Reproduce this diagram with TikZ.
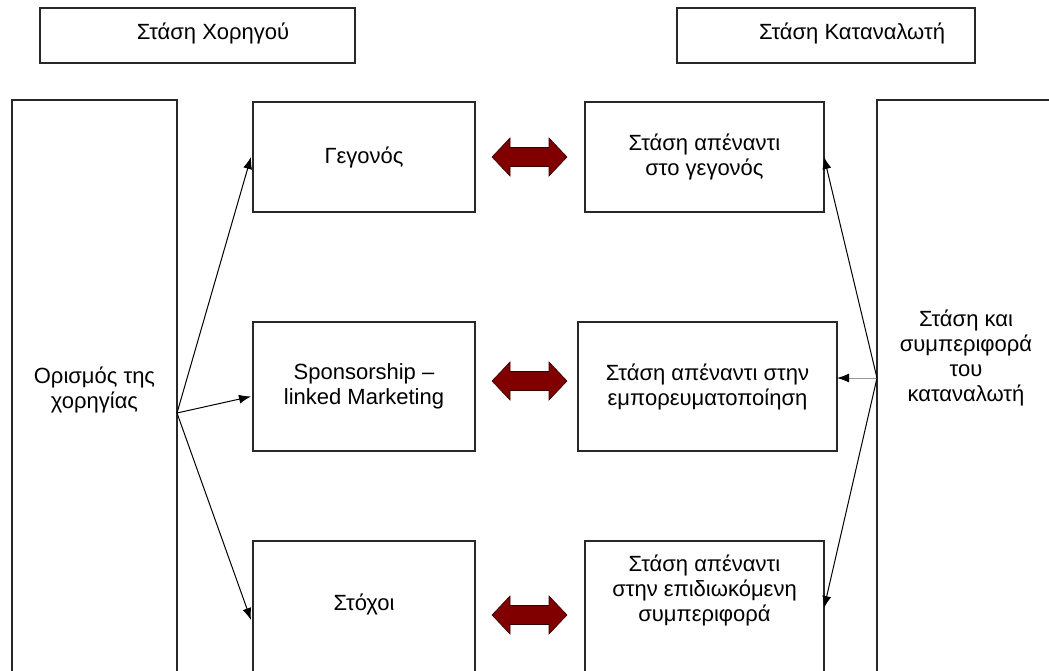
\documentclass[tikz,border=0pt]{standalone}
\usepackage{fontspec}
\setmainfont{Liberation Sans}
\usetikzlibrary{arrows.meta}
\definecolor{maroonfill}{RGB}{128,0,0}
\definecolor{framegray}{RGB}{40,40,40}

\tikzset{
  frame/.style={draw=framegray, line width=1.1pt, inner sep=0pt, outer sep=0pt,
    font=\fontsize{22}{25}\selectfont, align=center},
  txt/.style={inner sep=0pt, font=\fontsize{22}{25}\selectfont, align=center},
  conn/.style={draw=black, line width=1pt, -{Latex[length=12pt,width=9pt]}},
  connlight/.style={draw=black!40, line width=1pt, -{Latex[length=12pt,width=9pt,color=black]}},
  fatarrow/.pic={
    \filldraw[fill=maroonfill, draw=black!60!maroonfill, line width=0.6pt]
      (-37.5,0) -- (-19.5,-19) -- (-19.5,-9.5) -- (19.5,-9.5) -- (19.5,-19)
      -- (37.5,0) -- (19.5,19) -- (19.5,9.5) -- (-19.5,9.5) -- (-19.5,19) -- cycle;
  }
}

\begin{document}
\begin{tikzpicture}[x=1pt, y=-1pt]
  \useasboundingbox (0,0) rectangle (1049,670);
  \clip (0,0) rectangle (1049,670);

  % column headings
  \node[frame, minimum width=315, minimum height=55] (sponsorHead) at (197.5,35.5) {};
  \node[txt] (sponsorHeadText) at (213,33) {Στάση Χορηγού};
  \node[frame, minimum width=298, minimum height=55] (consumerHead) at (826,35.5) {};
  \node[txt] (consumerHeadText) at (852,33) {Στάση Καταναλωτή};

  % sponsorship definition (left column)
  \node[frame, minimum width=165, minimum height=590] (def) at (94.5,395) {};
  \node[txt] (defText) at (94.5,390) {Ορισμός της\\χορηγίας};

  % sponsor side
  \node[frame, minimum width=222, minimum height=110] (event) at (364,157) {\raisebox{3pt}{Γεγονός}};
  \node[frame, minimum width=222, minimum height=129] (slm) at (364,386.5) {Sponsorship –\\linked Marketing};
  \node[frame, minimum width=222, minimum height=158] (goals) at (364,620) {};
  \node[txt] (goalsText) at (364,604) {Στόχοι};

  % consumer side
  \node[frame, minimum width=239, minimum height=110] (attEvent) at (704.5,157) {Στάση απέναντι\\στο γεγονός};
  \node[frame, minimum width=259, minimum height=129] (attComm) at (707.5,386.5) {Στάση απέναντι στην\\εμπορευματοποίηση};
  \node[frame, minimum width=239, minimum height=158] (attBeh) at (704.5,620) {};
  \node[txt] (attBehText) at (704.5,590) {Στάση απέναντι\\στην επιδιωκόμενη\\συμπεριφορά};

  % consumer attitude and behaviour (right column)
  \node[frame, minimum width=183, minimum height=590] (consumer) at (968.5,395) {};
  \node[txt] (consumerText) at (966,358) {Στάση και\\συμπεριφορά\\του\\καταναλωτή};

  % fan-out connectors
  \coordinate (defOut) at (177,413);
  \coordinate (consOut) at (877,378);
  \draw[conn] (defOut) -- ([xshift=-2pt]event.west);
  \draw[conn] (defOut) -- ([xshift=-2pt,yshift=-10pt]slm.west);
  \draw[conn] (defOut) -- ([xshift=-2pt]goals.west);
  \draw[conn] (consOut) -- (attEvent.east);
  \draw[connlight] (consOut) -- ([yshift=8.5pt]attComm.east);
  \draw[conn] (consOut) -- ([yshift=12pt]attBeh.east);

  % two-way correspondence arrows
  \pic at (529.5,157) {fatarrow};
  \pic at (529.5,381) {fatarrow};
  \pic at (529.5,615) {fatarrow};
\end{tikzpicture}
\end{document}
